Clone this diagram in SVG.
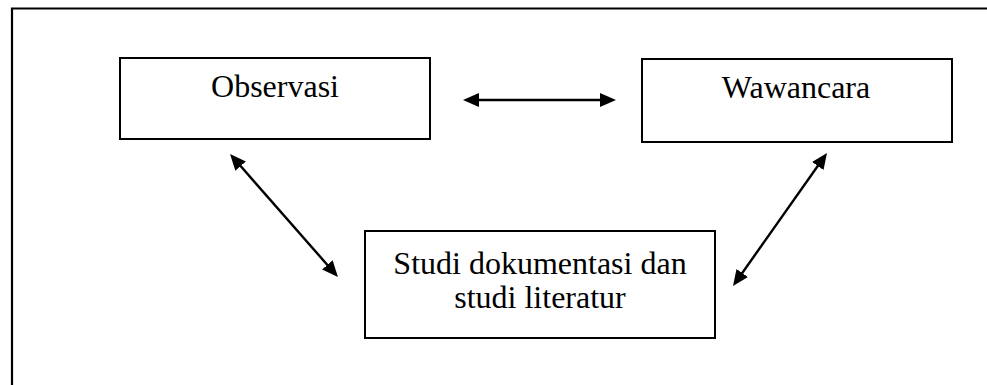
<svg xmlns="http://www.w3.org/2000/svg" width="987" height="385" viewBox="0 0 987 385">
  <style>
    .box { fill: #ffffff; stroke: #000000; stroke-width: 2; }
    .label { font-family: "Liberation Serif", "Times New Roman", serif; font-size: 32px; fill: #000000; text-anchor: middle; }
    .conn { stroke: #000000; stroke-width: 2.4; fill: none; marker-start: url(#arrow); marker-end: url(#arrow); }
    .frame { stroke: #000000; stroke-width: 2.2; fill: none; }
  </style>
  <defs>
    <marker id="arrow" viewBox="0 0 16 14" refX="7" refY="7" markerWidth="16" markerHeight="14" markerUnits="userSpaceOnUse" orient="auto-start-reverse">
      <path d="M0,0 L16,7 L0,14 z" fill="#000000"/>
    </marker>
  </defs>
  <rect width="987" height="385" fill="#ffffff"/>
  <g id="frame">
    <path class="frame" d="M12,385 L12,8.5 L987,8.5"/>
  </g>
  <g id="node-observasi">
    <rect class="box" x="120" y="58" width="310" height="81"/>
    <text class="label" x="275" y="97">Observasi</text>
  </g>
  <g id="node-wawancara">
    <rect class="box" x="642" y="59" width="310" height="83"/>
    <text class="label" x="796" y="98">Wawancara</text>
  </g>
  <g id="node-studi">
    <rect class="box" x="365" y="231" width="350" height="107"/>
    <text class="label" x="540" y="274">Studi dokumentasi dan</text>
    <text class="label" x="540" y="308">studi literatur</text>
  </g>
  <g id="connectors">
    <line class="conn" x1="472" y1="100" x2="607" y2="100"/>
    <line class="conn" x1="236" y1="160.8" x2="332" y2="270.2"/>
    <line class="conn" x1="821.8" y1="160.3" x2="738.2" y2="278.7"/>
  </g>
</svg>
